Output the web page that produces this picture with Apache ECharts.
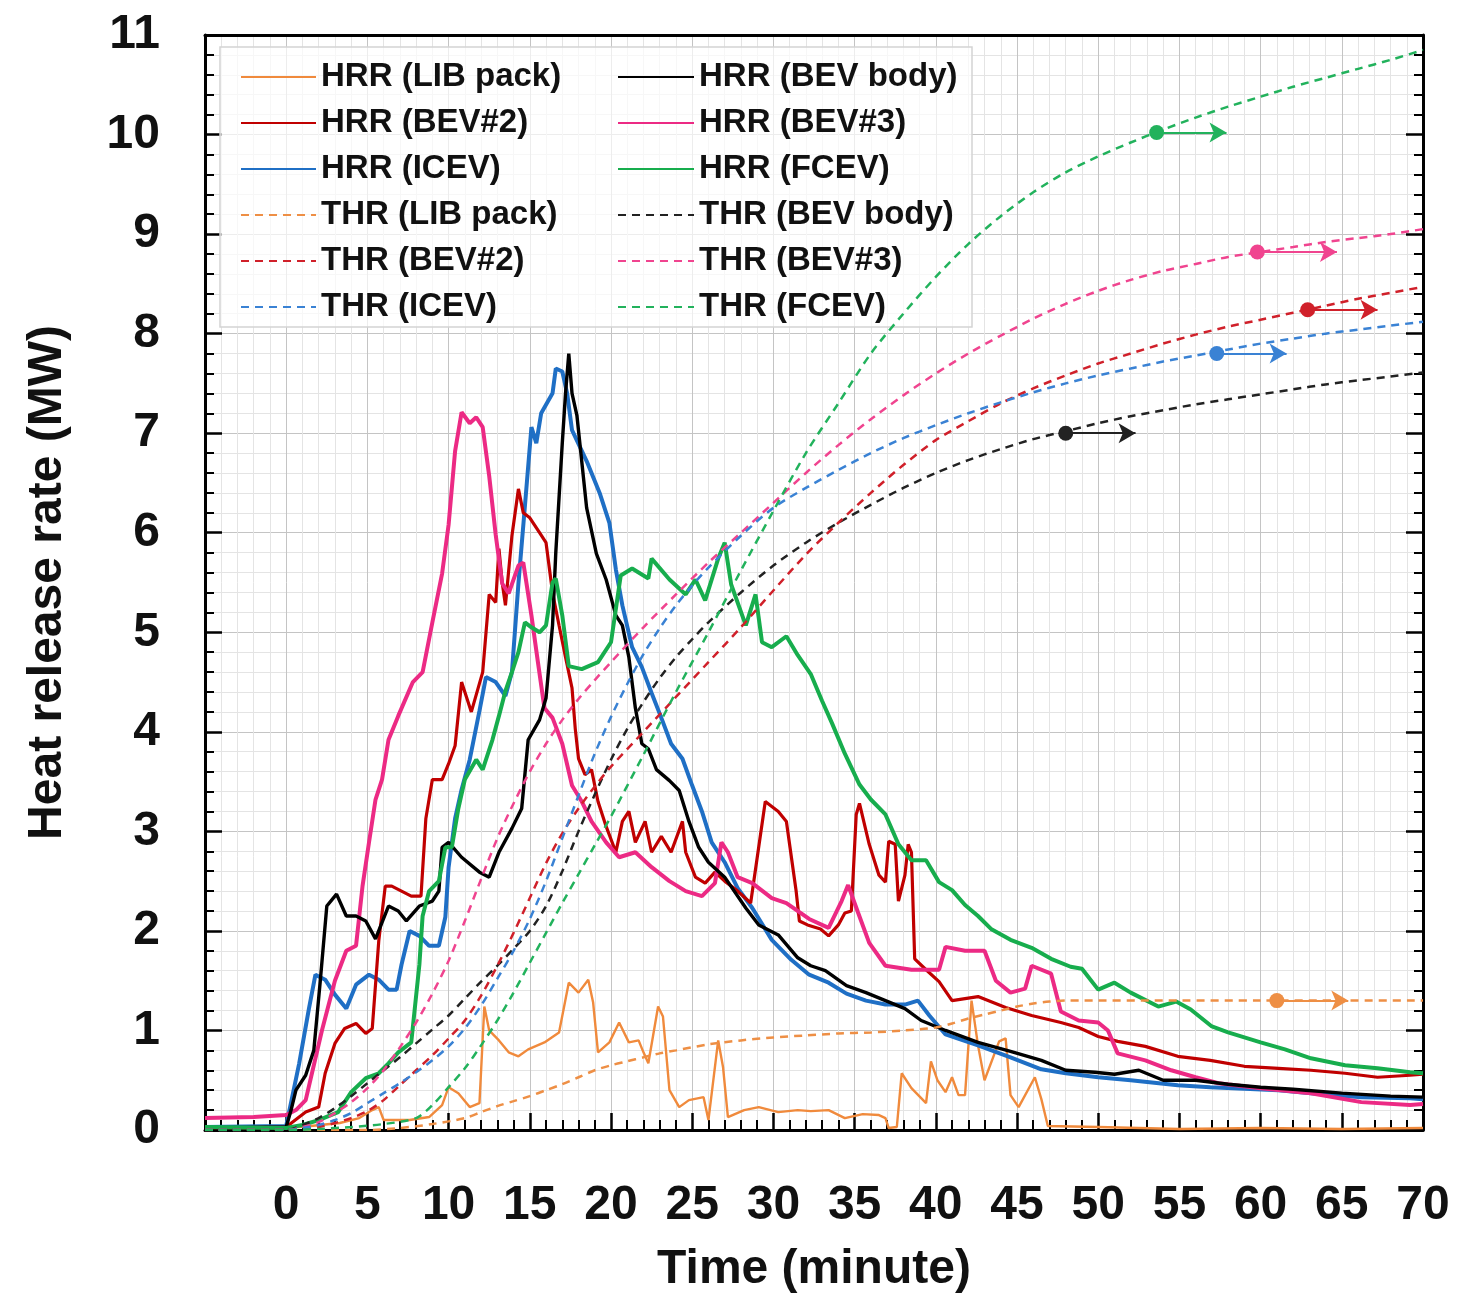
<!DOCTYPE html>
<html>
<head>
<meta charset="utf-8">
<title>Heat release rate</title>
<script src="https://cdn.jsdelivr.net/npm/echarts@6/dist/echarts.min.js"></script>
<style>
html, body { margin: 0; padding: 0; background: #fff; }
#chart { width: 1457px; height: 1299px; }
</style>
</head>
<body>
<div id="chart"></div>
<script>
// HRR curves, [minute, MW]
var hrrLib = [[-5,0.02],[0,0.02],[1.5,0.04],[3.3,0.07],[4.5,0.12],[5.3,0.2],[5.7,0.23],[6.0,0.1],[7.6,0.1],[8.8,0.13],[9.6,0.25],[10.0,0.43],[10.6,0.37],[11.3,0.23],[11.9,0.27],[12.2,1.24],[12.5,1.0],[13.1,0.9],[13.7,0.78],[14.3,0.74],[14.9,0.81],[15.9,0.88],[16.8,0.98],[17.4,1.48],[18.0,1.38],[18.6,1.51],[18.9,1.28],[19.2,0.78],[19.9,0.88],[20.5,1.08],[21.1,0.88],[21.7,0.9],[22.0,0.78],[22.3,0.67],[22.9,1.24],[23.2,1.14],[23.6,0.4],[24.2,0.23],[24.8,0.3],[25.7,0.33],[26.0,0.1],[26.6,0.9],[26.9,0.63],[27.2,0.13],[28.2,0.2],[29.1,0.23],[30.3,0.18],[31.5,0.2],[32.3,0.19],[33.4,0.2],[34.4,0.12],[35.5,0.16],[36.5,0.15],[36.9,0.12],[37.1,0.02],[37.6,0.03],[37.9,0.57],[38.5,0.42],[39.4,0.27],[39.7,0.69],[40.1,0.5],[40.6,0.38],[41.0,0.53],[41.4,0.35],[41.8,0.35],[42.2,1.3],[42.6,0.85],[43.0,0.5],[43.9,0.89],[44.3,0.92],[44.6,0.35],[45.1,0.23],[46.1,0.53],[46.5,0.31],[46.9,0.04],[50,0.03],[55,0.01],[60,0.02],[65,0.01],[70,0.02]];
var hrrBody = [[-5,0.02],[0,0.03],[0.3,0.2],[0.6,0.4],[1.2,0.55],[1.7,0.8],[2.1,1.5],[2.5,2.25],[3.1,2.37],[3.7,2.15],[4.3,2.15],[4.9,2.1],[5.5,1.92],[6.3,2.25],[6.9,2.2],[7.4,2.1],[8.2,2.25],[9.0,2.3],[9.4,2.4],[9.6,2.84],[10.0,2.89],[10.8,2.74],[11.9,2.59],[12.5,2.54],[13.1,2.79],[13.9,3.03],[14.5,3.23],[14.9,3.92],[15.6,4.12],[16.0,4.34],[16.4,5.07],[16.6,5.8],[17.0,6.9],[17.2,7.4],[17.4,7.8],[17.6,7.4],[17.9,7.18],[18.5,6.25],[19.1,5.79],[19.7,5.53],[20.3,5.17],[20.7,5.07],[21.1,4.75],[21.5,4.24],[21.9,3.88],[22.3,3.83],[22.8,3.62],[23.6,3.51],[24.2,3.41],[24.8,3.1],[25.4,2.84],[26.0,2.69],[27.0,2.54],[28.3,2.23],[29.1,2.06],[30.3,1.96],[31.5,1.73],[32.3,1.65],[33.2,1.6],[34.5,1.45],[35.7,1.38],[36.9,1.3],[38.1,1.22],[39.1,1.1],[40.6,1.0],[42.6,0.88],[44.6,0.79],[46.5,0.7],[48.0,0.6],[49.8,0.58],[51.0,0.56],[52.5,0.6],[54,0.5],[56,0.5],[58,0.46],[60,0.43],[62,0.41],[65,0.37],[68,0.34],[70,0.33]];
var hrrBev2 = [[-5,0.02],[0,0.03],[1.2,0.18],[2.0,0.23],[2.4,0.57],[3.0,0.87],[3.6,1.02],[4.3,1.07],[4.9,0.97],[5.3,1.02],[5.7,1.9],[6.1,2.45],[6.5,2.45],[7.1,2.4],[7.7,2.35],[8.3,2.35],[8.6,3.13],[9.0,3.52],[9.6,3.52],[10.0,3.68],[10.4,3.86],[10.8,4.5],[11.4,4.2],[12.1,4.6],[12.5,5.38],[12.9,5.3],[13.1,5.84],[13.3,5.5],[13.5,5.27],[13.9,5.97],[14.3,6.44],[14.6,6.2],[15.0,6.15],[15.6,6.0],[16.0,5.9],[16.4,5.4],[16.8,5.07],[17.2,4.75],[17.6,4.44],[17.8,4.03],[18.0,3.73],[18.4,3.57],[18.8,3.62],[19.2,3.3],[19.7,3.05],[20.3,2.79],[20.7,3.1],[21.1,3.2],[21.5,2.89],[22.1,3.1],[22.5,2.79],[23.1,2.95],[23.7,2.79],[24.4,3.1],[24.6,2.79],[25.2,2.54],[25.8,2.48],[26.4,2.59],[27.0,2.5],[27.8,2.4],[28.6,2.28],[29.5,3.3],[30.3,3.2],[30.8,3.1],[31.4,2.4],[31.6,2.1],[32.1,2.06],[32.9,2.02],[33.4,1.95],[34.0,2.06],[34.4,2.18],[34.8,2.2],[35.1,3.17],[35.3,3.28],[35.9,2.87],[36.5,2.56],[36.9,2.49],[37.1,2.9],[37.5,2.87],[37.7,2.3],[38.1,2.56],[38.3,2.87],[38.5,2.79],[38.7,1.72],[39.4,1.61],[40.2,1.49],[41.0,1.3],[42.6,1.34],[44.3,1.23],[45.9,1.15],[47.7,1.08],[48.8,1.03],[50.0,0.94],[51.2,0.89],[52.9,0.84],[54.9,0.74],[56.9,0.7],[59.0,0.64],[61.1,0.62],[63.1,0.6],[65.2,0.57],[67.2,0.53],[69.2,0.55],[70,0.56]];
var hrrBev3 = [[-5,0.12],[-2,0.13],[0,0.15],[0.6,0.2],[1.2,0.3],[1.7,0.65],[2.2,1.0],[3.0,1.5],[3.7,1.8],[4.3,1.85],[4.7,2.45],[5.1,2.89],[5.5,3.32],[5.9,3.52],[6.3,3.92],[6.9,4.16],[7.8,4.5],[8.4,4.6],[9.0,5.1],[9.6,5.59],[10.0,6.08],[10.4,6.82],[10.8,7.21],[11.3,7.1],[11.7,7.16],[12.1,7.06],[12.5,6.57],[12.9,5.98],[13.3,5.49],[13.7,5.39],[14.3,5.67],[14.6,5.7],[15.1,5.17],[15.5,4.7],[15.9,4.24],[16.4,4.14],[17.0,3.88],[17.6,3.46],[18.2,3.3],[18.8,3.1],[19.7,2.89],[20.5,2.74],[21.5,2.79],[22.5,2.64],[23.6,2.5],[24.6,2.4],[25.6,2.35],[26.4,2.48],[26.8,2.89],[27.2,2.79],[27.8,2.54],[28.7,2.48],[29.9,2.33],[30.8,2.28],[32.2,2.12],[33.4,2.03],[34.2,2.3],[34.6,2.46],[35.2,2.19],[35.9,1.88],[36.9,1.65],[38.5,1.61],[40.2,1.61],[40.6,1.84],[41.8,1.8],[43.0,1.8],[43.7,1.5],[44.6,1.38],[45.5,1.42],[45.9,1.65],[47.1,1.57],[47.7,1.19],[48.8,1.1],[50.0,1.08],[50.6,1.0],[51.2,0.77],[52.9,0.7],[54.5,0.6],[56.0,0.53],[57.4,0.47],[60.0,0.42],[63.1,0.37],[66.2,0.28],[69.2,0.25],[70,0.26]];
var hrrIcev = [[-5,0.03],[0,0.04],[0.8,0.67],[1.4,1.22],[1.8,1.56],[2.4,1.51],[3.0,1.36],[3.7,1.22],[4.3,1.46],[5.1,1.56],[5.7,1.51],[6.3,1.41],[6.8,1.41],[7.1,1.66],[7.6,2.0],[8.2,1.95],[8.8,1.85],[9.4,1.85],[9.8,2.14],[10.0,2.64],[10.4,3.13],[10.8,3.42],[11.3,3.72],[11.9,4.21],[12.3,4.55],[12.9,4.5],[13.5,4.36],[13.9,4.6],[14.3,5.49],[14.7,6.27],[15.1,7.06],[15.4,6.9],[15.7,7.2],[16.4,7.4],[16.6,7.65],[17.0,7.62],[17.3,7.4],[17.6,7.03],[18.5,6.72],[19.3,6.4],[19.9,6.1],[20.3,5.63],[20.7,5.27],[21.3,4.85],[21.9,4.65],[22.5,4.39],[23.1,4.14],[23.7,3.88],[24.4,3.73],[25.0,3.46],[25.6,3.2],[26.2,2.89],[27.0,2.69],[27.8,2.43],[28.7,2.23],[29.9,1.91],[31.1,1.71],[32.2,1.56],[33.4,1.48],[34.5,1.37],[35.7,1.3],[36.9,1.26],[38.1,1.26],[38.9,1.3],[39.6,1.15],[40.6,0.96],[42.6,0.85],[44.6,0.73],[46.5,0.61],[48.0,0.57],[50.0,0.53],[52.0,0.5],[54.9,0.45],[56.9,0.43],[61.1,0.4],[63.1,0.37],[66.2,0.33],[69.2,0.32],[70,0.31]];
var hrrFcev = [[-5,0.03],[0,0.02],[1,0.05],[2,0.1],[3.2,0.18],[4.0,0.38],[4.9,0.52],[5.7,0.57],[6.3,0.67],[6.9,0.78],[7.7,0.88],[8.2,1.66],[8.4,2.15],[8.8,2.4],[9.4,2.5],[9.8,2.84],[10.2,2.84],[10.6,3.23],[11.0,3.52],[11.7,3.72],[12.1,3.62],[12.7,3.92],[13.1,4.16],[13.5,4.41],[13.9,4.6],[14.3,4.8],[14.7,5.1],[15.1,5.05],[15.6,5.0],[16.0,5.07],[16.4,5.5],[16.6,5.54],[17.0,5.17],[17.4,4.66],[18.2,4.63],[19.2,4.7],[20.0,4.9],[20.6,5.57],[21.3,5.64],[22.3,5.54],[22.5,5.74],[23.6,5.53],[24.6,5.38],[25.2,5.53],[25.8,5.32],[26.6,5.74],[27.0,5.9],[27.4,5.48],[28.3,5.07],[28.9,5.38],[29.3,4.9],[29.9,4.85],[30.8,4.96],[31.5,4.77],[32.3,4.58],[33.0,4.31],[33.6,4.09],[34.4,3.78],[35.3,3.47],[36.0,3.32],[36.9,3.17],[37.7,2.87],[38.5,2.71],[39.4,2.71],[40.2,2.49],[41.0,2.41],[41.8,2.26],[42.6,2.15],[43.4,2.02],[44.6,1.91],[45.9,1.83],[47.1,1.72],[48.3,1.64],[49.0,1.62],[50.0,1.41],[51.0,1.48],[52.0,1.38],[53.7,1.24],[54.8,1.29],[55.7,1.21],[57.0,1.04],[58.0,0.98],[60.0,0.88],[61.5,0.81],[63.1,0.72],[65.2,0.65],[67.2,0.62],[69.2,0.58],[70,0.57]];

// THR curves, [minute, GJ]
var thrLib = [[-5,0],[5,0],[7,0.02],[9,0.06],[11,0.12],[12,0.18],[13,0.24],[14,0.29],[15,0.34],[16,0.4],[17,0.46],[18,0.53],[19,0.6],[20,0.65],[21,0.69],[22,0.73],[23,0.77],[24,0.8],[26,0.86],[28,0.9],[30,0.93],[32,0.95],[34,0.97],[36,0.98],[38,1.0],[40,1.03],[41,1.07],[42,1.12],[43,1.16],[44,1.2],[45,1.24],[46,1.27],[47,1.29],[48,1.3],[55,1.3],[60,1.3],[65,1.3],[70,1.3]];
var thrBody = [[-5,0],[0,0],[1,0.05],[2,0.12],[3,0.22],[4,0.34],[5,0.47],[6,0.6],[7,0.73],[8,0.87],[9,1.01],[10,1.15],[11,1.32],[12,1.49],[13,1.65],[14,1.82],[15,2.0],[16,2.25],[17,2.6],[18,3.0],[19,3.37],[20,3.72],[21,4.03],[22,4.3],[23,4.54],[24,4.75],[25,4.93],[26,5.1],[28,5.4],[30,5.67],[32,5.9],[34,6.1],[36,6.28],[38,6.45],[40,6.6],[42,6.73],[44,6.84],[46,6.94],[48,7.02],[50,7.1],[52,7.17],[54,7.23],[56,7.29],[58,7.34],[60,7.39],[62,7.44],[64,7.49],[66,7.53],[68,7.57],[70,7.61]];
var thrBev2 = [[-5,0],[0,0],[1,0.01],[2,0.03],[3,0.07],[4,0.12],[5,0.19],[6,0.3],[7,0.45],[8,0.6],[9,0.75],[10,0.92],[11,1.1],[12,1.35],[13,1.65],[14,1.98],[15,2.33],[16,2.68],[17,2.98],[18,3.23],[19,3.45],[20,3.65],[22,4.0],[24,4.35],[26,4.7],[28,5.05],[30,5.42],[32,5.78],[34,6.1],[36,6.4],[38,6.68],[40,6.93],[42,7.12],[44,7.3],[46,7.45],[48,7.58],[50,7.7],[52,7.8],[54,7.9],[56,7.99],[58,8.07],[60,8.14],[62,8.21],[64,8.28],[66,8.35],[68,8.41],[70,8.47]];
var thrBev3 = [[-5,0],[0,0],[1,0.03],[2,0.08],[3,0.17],[4,0.28],[5,0.42],[6,0.6],[7,0.83],[8,1.08],[9,1.37],[10,1.7],[11,2.1],[12,2.52],[13,2.93],[14,3.28],[15,3.6],[16,3.88],[17,4.12],[18,4.33],[19,4.52],[20,4.7],[22,5.05],[24,5.38],[26,5.7],[28,6.0],[30,6.3],[32,6.6],[34,6.88],[36,7.14],[38,7.38],[40,7.6],[42,7.8],[44,7.98],[46,8.15],[48,8.3],[50,8.43],[52,8.54],[54,8.63],[56,8.7],[58,8.77],[60,8.82],[62,8.87],[64,8.92],[66,8.96],[68,9.0],[70,9.05]];
var thrIcev = [[-5,0],[0,0],[1,0.02],[2,0.05],[3,0.1],[4,0.17],[5,0.27],[6,0.37],[7,0.47],[8,0.58],[9,0.7],[10,0.84],[11,1.02],[12,1.25],[13,1.52],[14,1.8],[15,2.12],[16,2.5],[17,2.93],[18,3.36],[19,3.78],[20,4.15],[21,4.48],[22,4.78],[23,5.04],[24,5.27],[25,5.47],[26,5.65],[28,5.97],[30,6.25],[32,6.45],[34,6.63],[36,6.8],[38,6.95],[40,7.08],[42,7.2],[44,7.31],[46,7.41],[48,7.5],[50,7.58],[52,7.65],[54,7.72],[56,7.78],[58,7.84],[60,7.9],[62,7.95],[64,8.0],[66,8.04],[68,8.08],[70,8.12]];
var thrFcev = [[-5,0],[0,0],[2,0.01],[4,0.03],[6,0.06],[8,0.12],[9,0.25],[10,0.43],[11,0.62],[12,0.85],[13,1.1],[14,1.38],[15,1.68],[16,1.98],[17,2.28],[18,2.57],[19,2.86],[20,3.15],[22,3.77],[24,4.4],[26,5.0],[28,5.62],[30,6.22],[32,6.8],[34,7.3],[36,7.8],[38,8.2],[40,8.57],[42,8.9],[44,9.18],[46,9.42],[48,9.62],[50,9.78],[52,9.92],[54,10.05],[56,10.17],[58,10.28],[60,10.38],[62,10.48],[64,10.57],[66,10.66],[68,10.75],[70,10.85]];

// dot + arrow on each THR curve: [start minute, GJ, end minute]
var markLib = [61, 1.3, 65.4];
var markBody = [48, 7.0, 52.3];
var markBev2 = [62.9, 8.24, 67.2];
var markBev3 = [59.8, 8.82, 64.7];
var markIcev = [57.3, 7.8, 61.6];
var markFcev = [53.6, 10.02, 57.9];

var font = '"Liberation Sans", Arial, sans-serif';

function hrr(name, data, color, width) {
    return {
        name: name, type: 'line', data: data, symbol: 'none',
        lineStyle: { color: color, width: width }, itemStyle: { color: color },
        emphasis: { disabled: true }, z: 3
    };
}

function thr(name, data, color, mk) {
    return {
        name: name, type: 'line', data: data, symbol: 'none', smooth: 0.3, yAxisIndex: 1,
        lineStyle: { color: color, width: 2.5, type: [8, 6] }, itemStyle: { color: color },
        emphasis: { disabled: true }, z: 4,
        markLine: {
            silent: true, animation: false,
            symbol: ['circle', 'arrow'], symbolSize: [15, 17],
            label: { show: false },
            lineStyle: { color: color, width: 2, type: 'solid' },
            data: [[{ coord: [mk[0], mk[1]] }, { coord: [mk[2], mk[1]] }]]
        }
    };
}

var legendText = { fontSize: 33, fontWeight: 'bold', color: '#111', fontFamily: font, lineHeight: 36 };

var chart = echarts.init(document.getElementById('chart'));
chart.setOption({
    animation: false,
    backgroundColor: '#fff',
    graphic: [{
        type: 'rect', z: 1,
        shape: { x: 220, y: 47, width: 752, height: 280 },
        style: { fill: 'rgba(255,255,255,0.7)', stroke: '#d4d4d4', lineWidth: 1.5 }
    }],
    legend: [{
        orient: 'vertical', left: 235, top: 54,
        itemWidth: 75, itemHeight: 14, itemGap: 10,
        itemStyle: { opacity: 0 },
        textStyle: legendText,
        data: ['HRR (LIB pack)', 'HRR (BEV#2)', 'HRR (ICEV)', 'THR (LIB pack)', 'THR (BEV#2)', 'THR (ICEV)']
    }, {
        orient: 'vertical', left: 612, top: 54,
        itemWidth: 76, itemHeight: 14, itemGap: 10,
        itemStyle: { opacity: 0 },
        textStyle: legendText,
        data: ['HRR (BEV body)', 'HRR (BEV#3)', 'HRR (FCEV)', 'THR (BEV body)', 'THR (BEV#3)', 'THR (FCEV)']
    }],
    grid: { left: 205, right: 34, top: 35, bottom: 168 },
    xAxis: [{
        type: 'value', min: -5, max: 70, interval: 5,
        name: 'Time (minute)', nameLocation: 'middle', nameGap: 116,
        nameTextStyle: { fontSize: 48, fontWeight: 'bold', color: '#111', fontFamily: font },
        axisLine: { onZero: false, lineStyle: { color: '#000', width: 3 } },
        axisTick: { inside: true, length: 17, lineStyle: { color: '#000', width: 2.5 } },
        minorTick: { show: true, splitNumber: 5, length: 10, lineStyle: { color: '#000', width: 2 } },
        splitLine: { show: true, lineStyle: { color: '#c4c4c4', width: 1 } },
        minorSplitLine: { show: true, lineStyle: { color: '#e4e4e4', width: 1 } },
        axisLabel: {
            margin: 52, fontSize: 48, fontWeight: 'bold', color: '#111', fontFamily: font,
            formatter: function (v) { return v < 0 ? '' : v; }
        }
    }, {
        type: 'value', min: -5, max: 70, position: 'top',
        axisLine: { onZero: false, lineStyle: { color: '#000', width: 3 } },
        axisTick: { show: false }, axisLabel: { show: false }, splitLine: { show: false }
    }],
    yAxis: [{
        type: 'value', min: 0, max: 11, interval: 1,
        name: 'Heat release rate (MW)', nameLocation: 'middle', nameGap: 133, nameRotate: 90,
        nameTextStyle: { fontSize: 48, fontWeight: 'bold', color: '#111', fontFamily: font },
        axisLine: { show: true, onZero: false, lineStyle: { color: '#000', width: 3 } },
        axisTick: { show: true, inside: true, length: 17, lineStyle: { color: '#000', width: 2.5 } },
        minorTick: { show: true, splitNumber: 5, length: 9, lineStyle: { color: '#000', width: 2 } },
        splitLine: { show: true, lineStyle: { color: '#c4c4c4', width: 1 } },
        minorSplitLine: { show: true, lineStyle: { color: '#e4e4e4', width: 1 } },
        axisLabel: { margin: 45, fontSize: 48, fontWeight: 'bold', color: '#111', fontFamily: font }
    }, {
        type: 'value', min: 0, max: 11, interval: 1, position: 'right',
        axisLine: { show: true, onZero: false, lineStyle: { color: '#000', width: 3 } },
        axisTick: { show: true, inside: true, length: 17, lineStyle: { color: '#000', width: 2.5 } },
        minorTick: { show: true, splitNumber: 5, length: 9, lineStyle: { color: '#000', width: 2 } },
        splitLine: { show: false }, axisLabel: { show: false }
    }],
    series: [
        hrr('HRR (LIB pack)', hrrLib, '#f08a3c', 2.4),
        hrr('HRR (ICEV)', hrrIcev, '#1f6fc5', 4),
        hrr('HRR (BEV#2)', hrrBev2, '#c00000', 3.2),
        hrr('HRR (BEV#3)', hrrBev3, '#ec2a84', 4),
        hrr('HRR (BEV body)', hrrBody, '#000000', 3.4),
        hrr('HRR (FCEV)', hrrFcev, '#17ad4d', 4),
        thr('THR (LIB pack)', thrLib, '#ee8f45', markLib),
        thr('THR (BEV body)', thrBody, '#222222', markBody),
        thr('THR (BEV#2)', thrBev2, '#d0202a', markBev2),
        thr('THR (BEV#3)', thrBev3, '#f0448f', markBev3),
        thr('THR (ICEV)', thrIcev, '#3a82d4', markIcev),
        thr('THR (FCEV)', thrFcev, '#22b25c', markFcev)
    ]
});
</script>
</body>
</html>
